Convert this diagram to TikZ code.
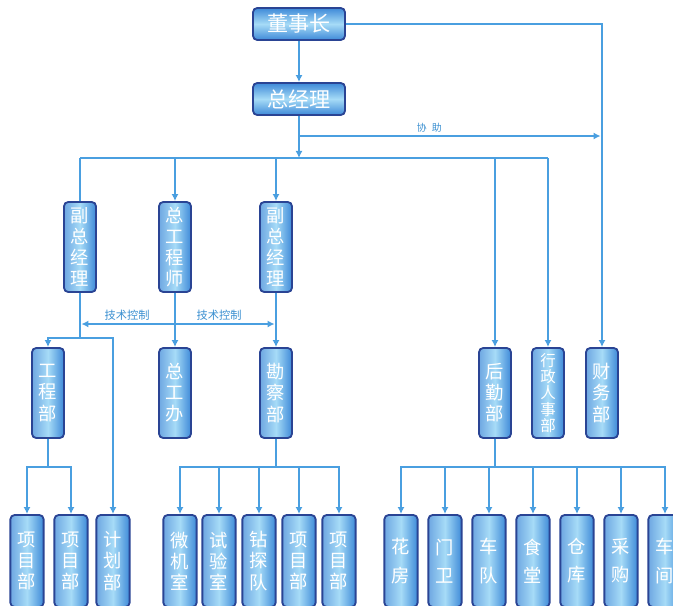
\documentclass[tikz,border=0pt]{standalone}
\usepackage{fontspec}
\setmainfont{Noto Sans CJK SC}
\usepackage{tikz}
\usetikzlibrary{arrows.meta}
\definecolor{OrgLine}{HTML}{4A9FE0}
\definecolor{OrgEdge}{HTML}{2A4494}
\definecolor{OrgLight}{HTML}{A6DBF7}
\definecolor{OrgBlue}{HTML}{3E8AD8}
\definecolor{OrgText}{HTML}{3A8FD0}
\tikzset{
  plain/.style={OrgLine,line width=1.1pt},
  link/.style={plain,-{Latex[length=5pt,width=5pt]}},
  twoway/.style={plain,{Latex[length=5pt,width=5pt]}-{Latex[length=5pt,width=5pt]}},
  hbox/.style={draw=OrgEdge,line width=1.3pt,rounded corners=3pt,top color=OrgBlue,bottom color=OrgBlue,middle color=OrgLight,
    minimum width=2.3cm,minimum height=0.8cm,inner sep=0pt,text=white,font=\fontsize{15}{18}\selectfont},
  vbox/.style={draw=OrgEdge,line width=1.3pt,rounded corners=3pt,left color=OrgBlue!75,right color=OrgBlue,middle color=OrgLight,
    minimum width=0.8cm,minimum height=2.25cm,inner sep=0pt,align=center,text=white,font=\fontsize{13}{15}\selectfont},
  leaf/.style={vbox,minimum width=0.83cm,minimum height=2.3cm},
  note/.style={text=OrgText,inner sep=2pt}
}
\begin{document}
\begin{tikzpicture}[x=0.025cm,y=-0.025cm]
\clip (0,0) rectangle (673,606);
% heads
\node[hbox] (dsz) at (299,24) {董事长};
\node[hbox] (zjl) at (299,99) {总经理};
% second row
\node[vbox] (fz1) at (80,247) {副\\总\\经\\理};
\node[vbox] (zgcs) at (175,247) {总\\工\\程\\师};
\node[vbox] (fz2) at (276,247) {副\\总\\经\\理};
% third row
\node[vbox] (gcb) at (48,393) {工\\程\\部};
\node[vbox] (zgb) at (175,393) {总\\工\\办};
\node[vbox] (kcb) at (276,393) {勘\\察\\部};
\node[vbox] (hqb) at (495,393) {后\\勤\\部};
\node[vbox,font=\fontsize{11}{11.5}\selectfont] (xzrs) at (548,393) {行\\政\\人\\事\\部};
\node[vbox] (cwb) at (602,393) {财\\务\\部};
% bottom row
\foreach \n/\x/\t in {xm1/27/{项\\目\\部},xm2/71/{项\\目\\部},jhb/113/{计\\划\\部},
  wjs/180/{微\\机\\室},sys/219/{试\\验\\室},ztd/259/{钻\\探\\队},xm3/299/{项\\目\\部},xm4/339/{项\\目\\部}}
  \node[leaf] (\n) at (\x,561) {\t};
\foreach \n/\x/\t in {hf/401/{花\\房},mw/445/{门\\卫},cd/489/{车\\队},st/533/{食\\堂},
  ck/577/{仓\\库},cg/621/{采\\购},cj/665/{车\\间}}
  \node[leaf,font=\fontsize{13}{20}\selectfont] (\n) at (\x,561) {\t};
% levels
\coordinate (helpY) at (0,136);
\coordinate (busA) at (0,158);
\coordinate (techY) at (0,324);
\coordinate (gcY) at (0,338);
\coordinate (busB) at (0,467);
% links
\draw[link] (dsz) -- (zjl);
\draw[link] (dsz.east) -| (cwb.north);
\draw[link,shorten >=1pt] (zjl.south |- helpY) -- (cwb.north |- helpY)
  node[note,pos=0.43,above,font=\fontsize{7}{8}\selectfont] (help) {协\enspace 助};
\draw[link] (zjl.south) -- (zjl.south |- busA);
\draw[plain] (fz1.north |- busA) -- (xzrs.north |- busA);
\draw[plain] (fz1.north |- busA) -- (fz1.north);
\foreach \c in {zgcs,fz2,hqb,xzrs}
  \draw[link] (\c.north |- busA) -- (\c.north);
\draw[twoway,shorten <=1pt,shorten >=1pt] (fz1.south |- techY) -- (fz2.south |- techY)
  node[note,pos=0.24,above,font=\fontsize{8}{9}\selectfont] (tech1) {技术控制}
  node[note,pos=0.71,above,font=\fontsize{8}{9}\selectfont] (tech2) {技术控制};
\draw[plain] (fz1.south) -- (fz1.south |- gcY);
\draw[link] (fz1.south |- gcY) -| (gcb.north);
\draw[link] (fz1.south |- gcY) -| (jhb.north);
\draw[link] (zgcs.south) -- (zgb.north);
\draw[link] (fz2.south) -- (kcb.north);
\foreach \c in {xm1,xm2}
  \draw[link] (gcb.south) |- (\c.north |- busB) -- (\c.north);
\foreach \c in {wjs,sys,ztd,xm3,xm4}
  \draw[link] (kcb.south) |- (\c.north |- busB) -- (\c.north);
\foreach \c in {hf,mw,cd,st,ck,cg,cj}
  \draw[link] (hqb.south) |- (\c.north |- busB) -- (\c.north);
\end{tikzpicture}
\end{document}
